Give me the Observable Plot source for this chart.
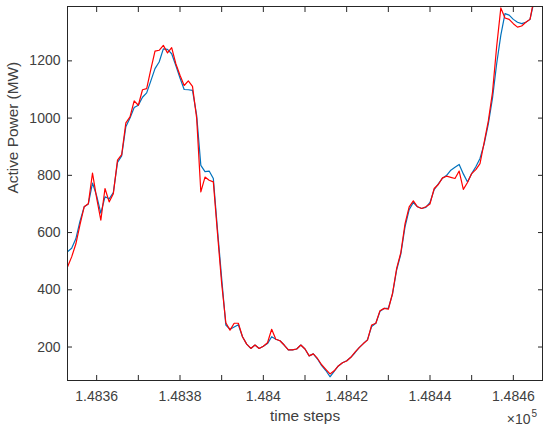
<!DOCTYPE html>
<html><head><meta charset="utf-8">
<script src="https://cdn.jsdelivr.net/npm/d3@7"></script>
<script src="https://cdn.jsdelivr.net/npm/@observablehq/plot@0.6"></script>
<style>
html,body{margin:0;padding:0;background:#fff;}
</style>
</head><body><div id="chart"></div>
<script>
const startStep = 148353;
const blueValues = [
  533,545,578,640,690,700,773,728,668,725,
  718,740,845,868,970,1000,1037,1045,1073,1088,
  1130,1173,1196,1242,1240,1225,1184,1140,1100,1099,
  1097,1010,835,813,815,789,610,440,277,262,
  270,278,236,210,195,207,195,203,212,236,
  227,222,207,190,190,193,207,193,169,176,
  158,135,118,96,115,134,145,152,164,180,
  198,212,226,272,283,325,335,335,385,470,
  525,620,680,705,690,684,688,705,750,770,
  790,800,818,828,838,805,777,806,830,859,
  910,980,1070,1190,1290,1365,1360,1345,1335,1330,
  1335,1345,1410,1440,1460
];
const redValues = [
  480,515,560,628,690,701,808,720,643,754,
  707,736,853,872,983,1004,1060,1045,1099,1103,
  1170,1234,1237,1254,1228,1246,1190,1150,1114,1130,
  1111,1000,742,794,783,777,597,422,285,259,
  283,283,236,210,195,207,195,203,215,262,
  227,222,207,190,190,193,207,193,169,176,
  160,138,122,106,117,134,145,151,164,182,
  198,212,224,277,283,327,335,332,387,475,
  530,630,690,711,690,684,690,700,754,768,
  791,797,793,789,815,751,775,806,820,841,
  915,990,1090,1250,1385,1350,1345,1330,1318,1322,
  1335,1345,1420,1440,1460
];
const xTickValues = [148360,148370,148380,148390,148400,148410,148420,148430,148440,148450,148460];
const xLabelValues = [148360,148380,148400,148420,148440,148460];
const xTickLabels = ["1.4836","1.4838","1.484","1.4842","1.4844","1.4846"];
const yTickValues = [200,400,600,800,1000,1200];
const yTickLabels = ["200","400","600","800","1000","1200"];
const xDomain = [148353, 148467];
const yDomain = [83, 1390];
const xLabel = "time steps";
const yLabel = "Active Power (MW)";

const blueData = blueValues.map((v, i) => ({t: startStep + i, v}));
const redData = redValues.map((v, i) => ({t: startStep + i, v}));

const axisColor = "#262626";
const textColor = "#404040";

const chart = Plot.plot({
  width: 550, height: 434,
  marginLeft: 67, marginRight: 8, marginTop: 6, marginBottom: 54,
  style: {fontFamily: "'Liberation Sans', Arial, Helvetica, sans-serif", fontSize: "14px", color: textColor, background: "#fff"},
  x: {domain: xDomain},
  y: {domain: yDomain},
  marks: [
    Plot.line(blueData, {x: "t", y: "v", stroke: "#0072BD", strokeWidth: 1.2, clip: true}),
    Plot.line(redData, {x: "t", y: "v", stroke: "#FF0000", strokeWidth: 1.2, clip: true}),
    Plot.axisX(xTickValues, {anchor: "bottom", tickSize: -5, fill: "none", stroke: axisColor, label: null}),
    Plot.axisX(xTickValues, {anchor: "top", tickSize: -5, fill: "none", stroke: axisColor, label: null}),
    Plot.axisX(xLabelValues, {anchor: "bottom", tickSize: 0, tickPadding: 11, fill: textColor, label: null,
      tickFormat: d => xTickLabels[xLabelValues.indexOf(d)]}),
    Plot.axisY(yTickValues, {anchor: "left", tickSize: -5, fill: "none", stroke: axisColor, label: null}),
    Plot.axisY(yTickValues, {anchor: "right", tickSize: -5, fill: "none", stroke: axisColor, label: null}),
    Plot.axisY(yTickValues, {anchor: "left", tickSize: 0, tickPadding: 7, fill: textColor, label: null,
      tickFormat: d => yTickLabels[yTickValues.indexOf(d)]}),
    Plot.frame({stroke: axisColor}),
    Plot.text([xLabel], {frameAnchor: "bottom", dy: 40, fontSize: 15.4, fill: textColor}),
    Plot.text([yLabel], {frameAnchor: "left", dx: -54, rotate: -90, fontSize: 15.4, fill: textColor}),
    Plot.text(["×10"], {frameAnchor: "bottom-right", dx: -12, dy: 43, textAnchor: "end", fontSize: 14, fill: textColor}),
    Plot.text(["5"], {frameAnchor: "bottom-right", dx: -11, dy: 36, textAnchor: "start", fontSize: 10, fill: textColor})
  ]
});
document.getElementById("chart").appendChild(chart);
</script>
</body></html>
